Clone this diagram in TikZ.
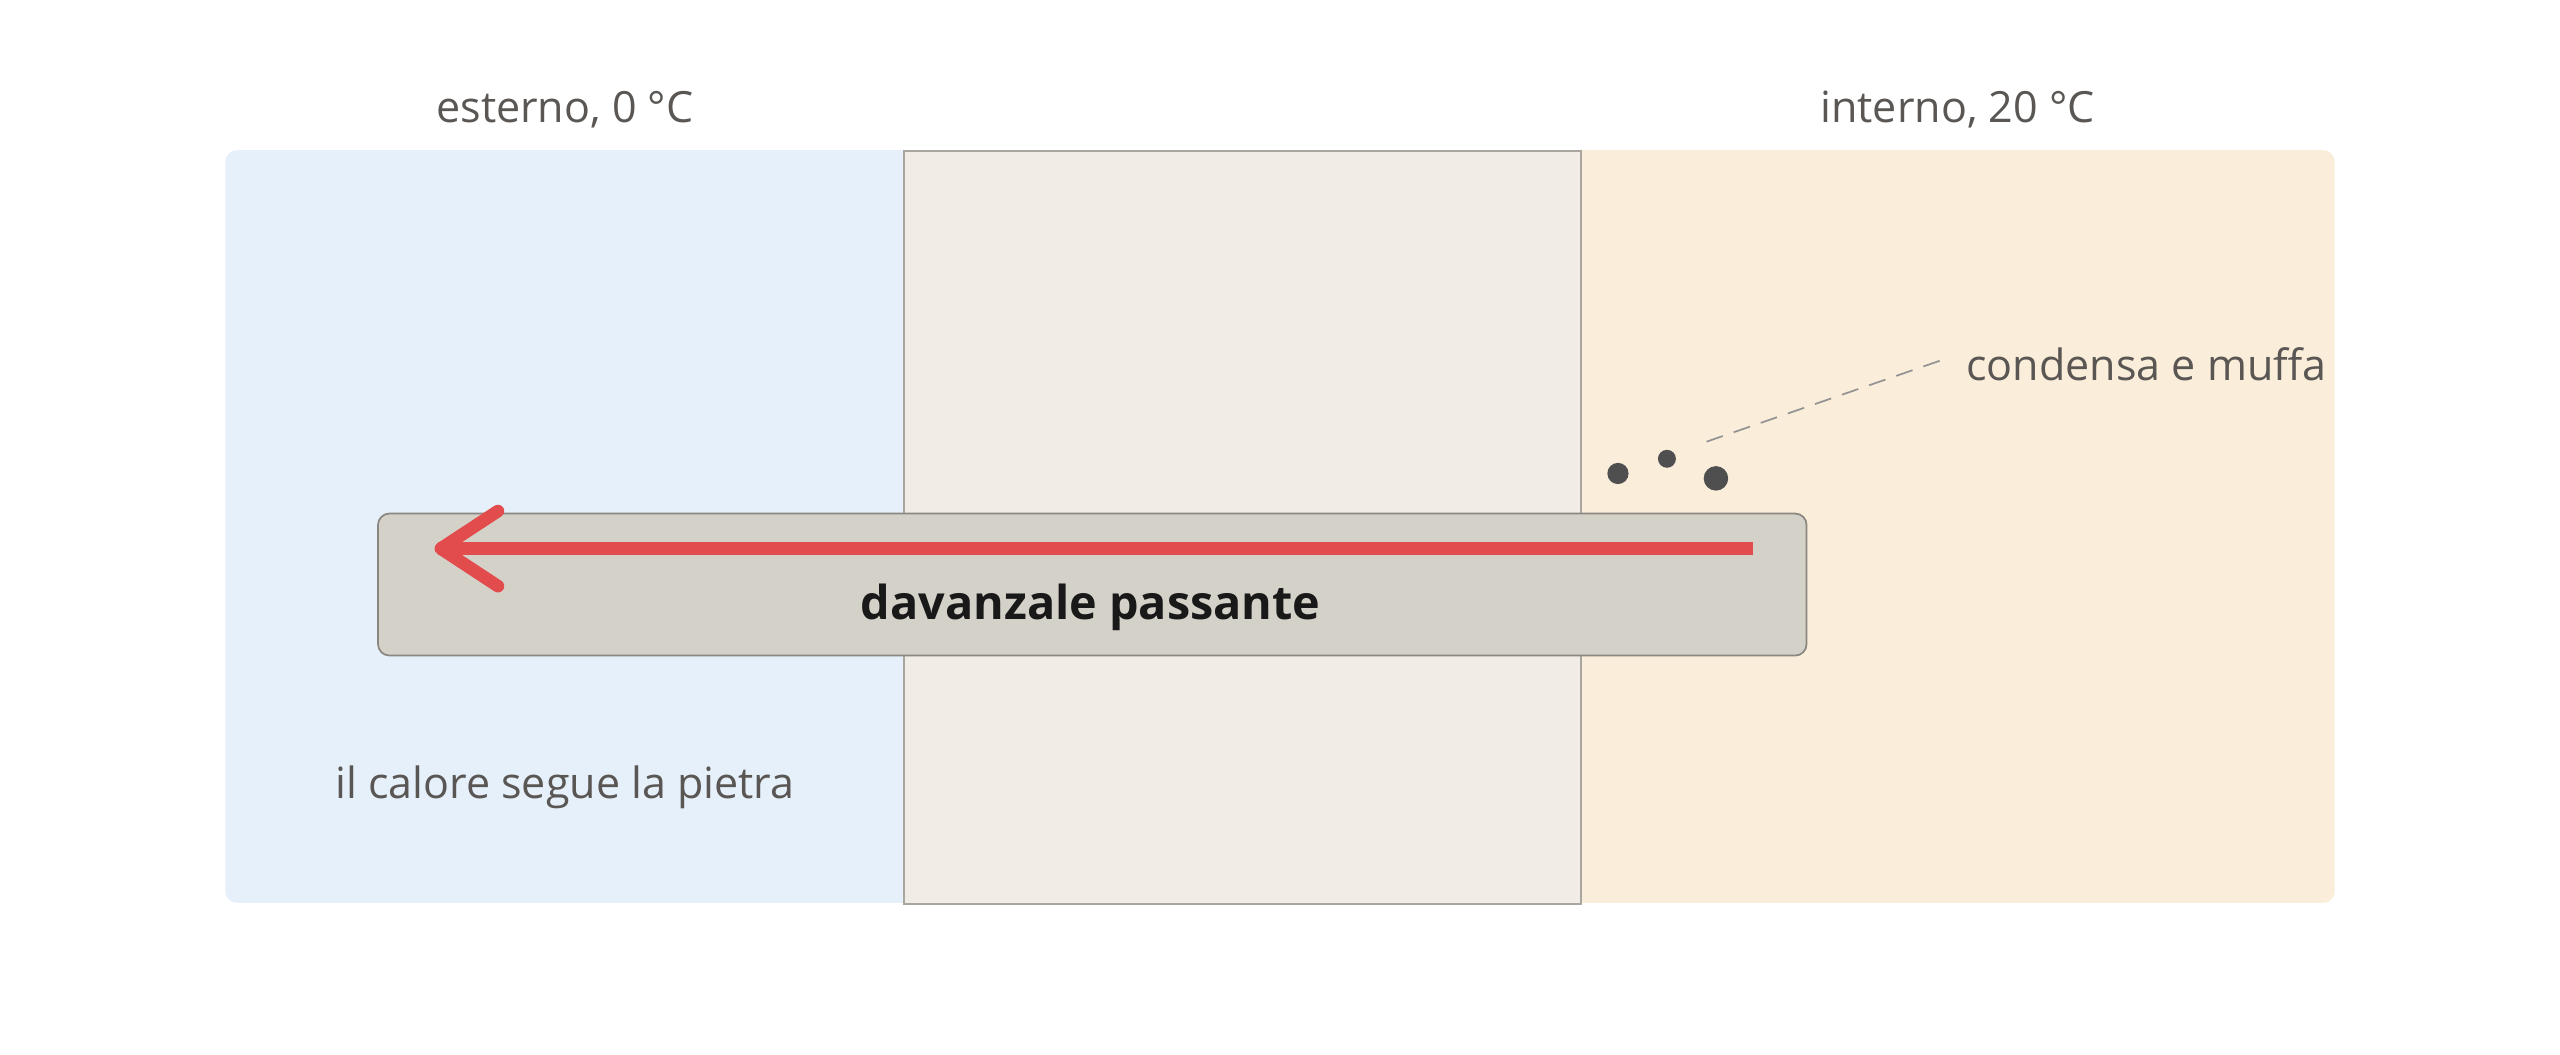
\documentclass[tikz,border=0pt]{standalone}
\usepackage{fontspec}
\setmainfont{Open Sans}
\definecolor{coldbg}{HTML}{E6F0FA}
\definecolor{warmbg}{HTML}{FAEDDA}
\definecolor{wallbg}{HTML}{F1EDE6}
\definecolor{wallline}{HTML}{A9A59F}
\definecolor{sillbg}{HTML}{D4D1C9}
\definecolor{sillline}{HTML}{8A8780}
\definecolor{heat}{HTML}{E24C4C}
\definecolor{labelgray}{HTML}{595653}
\definecolor{dotgray}{HTML}{4F4F4F}
\begin{document}
\begin{tikzpicture}[x=0.02cm,y=-0.02cm,
  lbl/.style={text=labelgray,font=\fontsize{15}{18}\selectfont,inner sep=0pt},
  dropdot/.style={fill=dotgray,draw=none}]
\useasboundingbox (0,0) rectangle (1568,646);
\fill[white] (0,0) rectangle (1568,646);
% side zones
\fill[coldbg,rounded corners=4] (138,92) rectangle (570,553);
\fill[warmbg,rounded corners=4] (950,92) rectangle (1430,553);
% wall
\node[draw=wallline,fill=wallbg,line width=0.6pt,minimum width=415*0.02cm,minimum height=461*0.02cm,inner sep=0pt,anchor=north west] (wall) at (553,92) {};
% sill
\node[draw=sillline,fill=sillbg,line width=0.6pt,rounded corners=4,minimum width=875*0.02cm,minimum height=87*0.02cm,inner sep=0pt,anchor=north west] (sill) at (231,314) {};
\node[font=\fontsize{16.3}{19}\bfseries\selectfont,text=black!90,inner sep=0pt] (silllabel) at (668,372) {davanzale passante};
% heat arrow
\coordinate (hstart) at (1074,336);
\coordinate (htip) at (270,336);
\coordinate (hup) at (305,313);
\coordinate (hdn) at (305,359);
\draw[heat,line width=4.4pt] (hstart) -- ([xshift=-1pt]htip);
\draw[heat,line width=4.4pt,line cap=round,line join=round] (hup) -- (htip) -- (hdn);
% condensation droplets
\fill[dropdot] (991,290) circle (6.5) coordinate (d1);
\fill[dropdot] (1021,281) circle (5.5) coordinate (d2);
\fill[dropdot] (1051,293) circle (7.5) coordinate (d3);
% labels
\node[lbl] (ext) at (346,67) {esterno, 0 °C};
\node[lbl] (int) at (1199,67) {interno, 20 °C};
\node[lbl] (flow) at (346,482) {il calore segue la pietra};
\node[lbl,anchor=west] (mould) at (1204,223) {condensa e muffa};
\coordinate (leadend) at (1041,272);
\draw[gray!85,dashed,line width=0.6pt,dash pattern=on 6pt off 4pt] (1188,221) -- (leadend);
\end{tikzpicture}
\end{document}
